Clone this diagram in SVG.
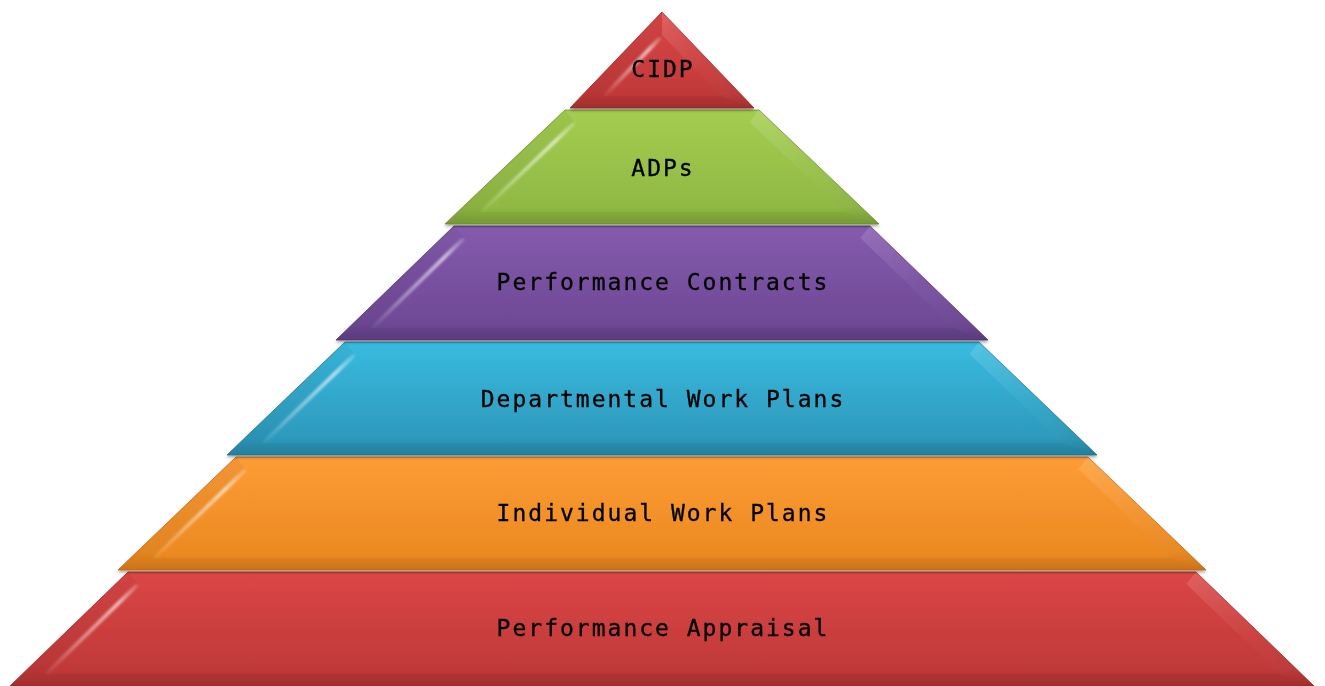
<svg xmlns="http://www.w3.org/2000/svg" width="1325" height="686" viewBox="0 0 1325 686">
<defs>
  <linearGradient id="gRed" x1="0" y1="0" x2="0" y2="1">
    <stop offset="0" stop-color="#db4646"/><stop offset="0.85" stop-color="#c13939"/><stop offset="1" stop-color="#a92f2f"/>
  </linearGradient>
  <linearGradient id="gGreen" x1="0" y1="0" x2="0" y2="1">
    <stop offset="0" stop-color="#a4cd50"/><stop offset="0.85" stop-color="#90b944"/><stop offset="1" stop-color="#7c9f37"/>
  </linearGradient>
  <linearGradient id="gPurple" x1="0" y1="0" x2="0" y2="1">
    <stop offset="0" stop-color="#855bae"/><stop offset="0.85" stop-color="#6f4996"/><stop offset="1" stop-color="#5e3d82"/>
  </linearGradient>
  <linearGradient id="gBlue" x1="0" y1="0" x2="0" y2="1">
    <stop offset="0" stop-color="#39bbe0"/><stop offset="0.85" stop-color="#2d99bc"/><stop offset="1" stop-color="#2684a3"/>
  </linearGradient>
  <linearGradient id="gOrange" x1="0" y1="0" x2="0" y2="1">
    <stop offset="0" stop-color="#fd9c35"/><stop offset="0.85" stop-color="#ec8a22"/><stop offset="1" stop-color="#d4781a"/>
  </linearGradient>
  <linearGradient id="gStreak" x1="1" y1="0" x2="0" y2="1">
    <stop offset="0" stop-color="#fff" stop-opacity="0.2"/>
    <stop offset="0.2" stop-color="#fff" stop-opacity="0.6"/>
    <stop offset="0.7" stop-color="#fff" stop-opacity="0.3"/>
    <stop offset="1" stop-color="#fff" stop-opacity="0.05"/>
  </linearGradient>
  <linearGradient id="gStreakR" x1="0" y1="0" x2="1" y2="1">
    <stop offset="0" stop-color="#fff" stop-opacity="0.14"/>
    <stop offset="0.5" stop-color="#fff" stop-opacity="0.03"/>
    <stop offset="1" stop-color="#000" stop-opacity="0.05"/>
  </linearGradient>
  <filter id="shadow" x="-5%" y="-10%" width="110%" height="125%">
    <feDropShadow dx="0" dy="2" stdDeviation="1.5" flood-color="#000" flood-opacity="0.35"/>
  </filter>
  <filter id="soft" x="-10%" y="-10%" width="120%" height="120%">
    <feGaussianBlur stdDeviation="0.9"/>
  </filter>
</defs>
<style>
  .red .body{fill:url(#gRed);stroke:#9c2b2b;stroke-width:0.8}
  .green .body{fill:url(#gGreen);stroke:#6f8f30;stroke-width:0.8}
  .purple .body{fill:url(#gPurple);stroke:#553777;stroke-width:0.8}
  .blue .body{fill:url(#gBlue);stroke:#22768f;stroke-width:0.8}
  .orange .body{fill:url(#gOrange);stroke:#c06b14;stroke-width:0.8}
  .lf{fill:#000;fill-opacity:0.04}
  .rf{fill:url(#gStreakR)}
  .bf{fill:#000;fill-opacity:0.04}
  .streak{fill:none;stroke:url(#gStreak);stroke-width:4;stroke-linecap:round;filter:url(#soft)}
  .lbl{font-family:"DejaVu Sans Mono","Liberation Mono",monospace;font-size:23px;letter-spacing:2px;fill:#000;stroke:#000;stroke-width:0.3;text-anchor:middle}
  .layer{filter:url(#shadow)}
</style>

<g id="layer-performance-appraisal" class="layer red" transform="translate(662,572)">
  <polygon class="body" points="-534,0 534,0 652,114 -652,114"/>
  <polygon class="lf" points="-534,0 -524.4,12 -617.6,102 -652,114"/>
  <polygon class="rf" points="534,0 524.4,12 617.6,102 652,114"/>
  <polygon class="bf" points="-617.6,102 617.6,102 652,114 -652,114"/>
  <line class="streak" x1="-526" y1="14" x2="-614" y2="100"/>
  <text class="lbl" x="1" y="64">Performance Appraisal</text>
</g>

<g id="layer-individual-work-plans" class="layer orange" transform="translate(662,457)">
  <polygon class="body" points="-426,0 426,0 544,113 -544,113"/>
  <polygon class="lf" points="-426,0 -416.5,12 -509.5,101 -544,113"/>
  <polygon class="rf" points="426,0 416.5,12 509.5,101 544,113"/>
  <polygon class="bf" points="-509.5,101 509.5,101 544,113 -544,113"/>
  <line class="streak" x1="-418" y1="14" x2="-506" y2="99"/>
  <text class="lbl" x="1" y="64">Individual Work Plans</text>
</g>

<g id="layer-departmental-work-plans" class="layer blue" transform="translate(662,342)">
  <polygon class="body" points="-317,0 317,0 435,113 -435,113"/>
  <polygon class="lf" points="-317,0 -307.5,12 -400.5,101 -435,113"/>
  <polygon class="rf" points="317,0 307.5,12 400.5,101 435,113"/>
  <polygon class="bf" points="-400.5,101 400.5,101 435,113 -435,113"/>
  <line class="streak" x1="-309" y1="14" x2="-397" y2="99"/>
  <text class="lbl" x="1" y="65">Departmental Work Plans</text>
</g>

<g id="layer-performance-contracts" class="layer purple" transform="translate(662,226)">
  <polygon class="body" points="-208,0 208,0 326,114 -326,114"/>
  <polygon class="lf" points="-208,0 -198.4,12 -291.6,102 -326,114"/>
  <polygon class="rf" points="208,0 198.4,12 291.6,102 326,114"/>
  <polygon class="bf" points="-291.6,102 291.6,102 326,114 -326,114"/>
  <line class="streak" x1="-200" y1="14" x2="-288" y2="100"/>
  <text class="lbl" x="1" y="64">Performance Contracts</text>
</g>

<g id="layer-adps" class="layer green" transform="translate(662,110)">
  <polygon class="body" points="-97,0 97,0 217,114 -217,114"/>
  <polygon class="lf" points="-97,0 -87.6,12 -182.4,102 -217,114"/>
  <polygon class="rf" points="97,0 87.6,12 182.4,102 217,114"/>
  <polygon class="bf" points="-182.4,102 182.4,102 217,114 -217,114"/>
  <line class="streak" x1="-89" y1="14" x2="-179" y2="100"/>
  <text class="lbl" x="1" y="66">ADPs</text>
</g>

<g id="layer-cidp" class="layer red" transform="translate(662,12)">
  <polygon class="body" points="0,0 92,96 -92,96"/>
  <polygon class="lf" points="0,0 0,23 -58.5,84 -92,96"/>
  <polygon class="rf" points="0,0 0,23 58.5,84 92,96"/>
  <polygon class="bf" points="-58.5,84 58.5,84 92,96 -92,96"/>
  <line class="streak" x1="-3" y1="27" x2="-56" y2="82"/>
  <text class="lbl" x="1" y="65">CIDP</text>
</g>

<g id="connectors"></g>
</svg>
